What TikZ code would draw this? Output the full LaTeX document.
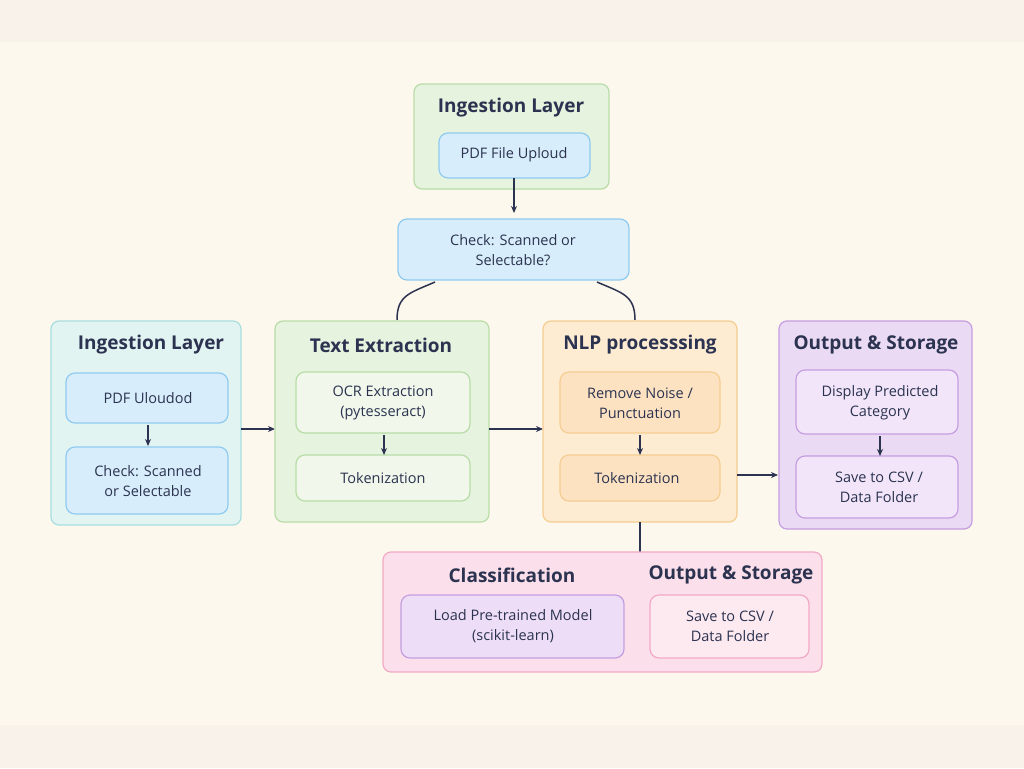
\documentclass[tikz,border=0pt]{standalone}
\usepackage{fontspec}
\setmainfont{Open Sans}
\usetikzlibrary{arrows.meta}
\definecolor{ink}{HTML}{2B3350}
\definecolor{gf}{HTML}{E6F3DF}\definecolor{gd}{HTML}{B8DCA8}
\definecolor{bf}{HTML}{D8EDFB}\definecolor{bd}{HTML}{8FCBF0}
\definecolor{cf}{HTML}{E2F4F2}\definecolor{cd}{HTML}{A8DDE0}
\definecolor{of}{HTML}{FDEBD2}\definecolor{od}{HTML}{F5CD92}
\definecolor{oi}{HTML}{FDE2C2}
\definecolor{pf}{HTML}{EBDAF4}\definecolor{pd}{HTML}{C49EE0}
\definecolor{kf}{HTML}{FBDFEA}\definecolor{kd}{HTML}{F2A9C6}
\definecolor{ki}{HTML}{FDE9F0}
\definecolor{tg}{HTML}{F1F7EA}
\definecolor{pi}{HTML}{F2E5F9}
\definecolor{pl}{HTML}{EDDDF6}
\definecolor{bgo}{HTML}{F8F2EA}
\definecolor{bgi}{HTML}{FDF8ED}
\tikzset{
 grp/.style={draw=#1,line width=1.2pt,rounded corners=8pt},
 box/.style={draw=#1,line width=1.2pt,rounded corners=9pt},
 ttl/.style={text=ink,font=\fontsize{19}{22}\selectfont\bfseries},
 lbl/.style={text=ink,font=\fontsize{14.5}{20}\selectfont,align=center},
 arr/.style={-{Stealth[length=7pt,width=6pt]},line width=1.3pt,draw=ink},
 ln/.style={line width=1.5pt,draw=ink}
}
\begin{document}
\begin{tikzpicture}[x=1pt,y=-1pt]
\useasboundingbox (0,0) rectangle (1024,768);
\fill[bgo] (0,0) rectangle (1024,768);
\fill[bgi] (0,42) rectangle (1024,725);
% top ingestion
\filldraw[grp=gd,fill=gf] (414,84) rectangle (609,189);
\node[ttl] (t1) at (511,108) {Ingestion Layer};
\filldraw[box=bd,fill=bf] (439,133) rectangle (590,178);
\node[lbl] (up) at (514,155) {PDF File Uploud};
\coordinate (upb) at (514,178);
\filldraw[box=bd,fill=bf] (398,219) rectangle (629,280);
\node[lbl] (chk) at (513,250) {Check: Scanned or\\Selectable?};
\coordinate (chkt) at (514,213);
\draw[arr] (upb) -- (chkt);
\draw[ln] (435,282) .. controls (410,293) and (397,295) .. (397,320);
\draw[ln] (597,282) .. controls (622,293) and (635,295) .. (635,320);
% left ingestion
\filldraw[grp=cd,fill=cf] (51,321) rectangle (241,525);
\node[ttl] (t2) at (151,345) {Ingestion Layer};
\filldraw[box=bd,fill=bf] (66,373) rectangle (228,423);
\node[lbl] (pu) at (148,398) {PDF Uloudod};
\filldraw[box=bd,fill=bf] (66,447) rectangle (228,514);
\node[lbl] (c2) at (148,481) {Check: Scanned\\or Selectable};
\draw[arr] (148,425) -- (148,446);
\draw[arr] (241,429) -- (275,429);
% text extraction
\filldraw[grp=gd,fill=gf] (275,321) rectangle (489,522);
\node[ttl] (t3) at (381,345) {Text Extraction};
\filldraw[box=gd,fill=tg] (296,372) rectangle (470,433);
\node[lbl] (ocr) at (383,403) {OCR Extraction\\(pytesseract)};
\filldraw[box=gd,fill=tg] (296,455) rectangle (470,501);
\node[lbl] (tok1) at (383,478) {Tokenization};
\draw[arr] (384,435) -- (384,455);
\draw[arr] (489,429) -- (543,429);
% NLP
\filldraw[grp=od,fill=of] (543,321) rectangle (737,522);
\node[ttl] (t4) at (640,345) {NLP processsing};
\filldraw[box=od,fill=oi] (560,372) rectangle (720,433);
\node[lbl] (rn) at (640,403) {Remove Noise /\\Punctuation};
\filldraw[box=od,fill=oi] (560,455) rectangle (720,501);
\node[lbl] (tok2) at (637,478) {Tokenization};
\draw[arr] (640,435) -- (640,455);
\draw[arr] (737,475) -- (778,475);
% output
\filldraw[grp=pd,fill=pf] (779,321) rectangle (972,529);
\node[ttl] (t5) at (876,345) {Output \& Storage};
\filldraw[box=pd,fill=pi] (796,370) rectangle (958,434);
\node[lbl] (dp) at (880,403) {Display Predicted\\Category};
\filldraw[box=pd,fill=pi] (796,456) rectangle (958,518);
\node[lbl] (sv) at (879,487) {Save to CSV /\\Data Folder};
\draw[arr] (880,436) -- (880,456);
% classification
\draw[ln] (640,522) -- (640,552);
\filldraw[grp=kd,fill=kf] (383,552) rectangle (822,672);
\node[ttl] (t6) at (512,575) {Classification};
\node[ttl] (t7) at (731,575) {Output \& Storage};
\filldraw[box=pd,fill=pl] (401,595) rectangle (624,658);
\node[lbl] (lm) at (513,626) {Load Pre-trained Model\\(scikit-learn)};
\filldraw[box=kd,fill=ki] (650,595) rectangle (809,658);
\node[lbl] (sv2) at (730,626) {Save to CSV /\\Data Folder};
\end{tikzpicture}
\end{document}
